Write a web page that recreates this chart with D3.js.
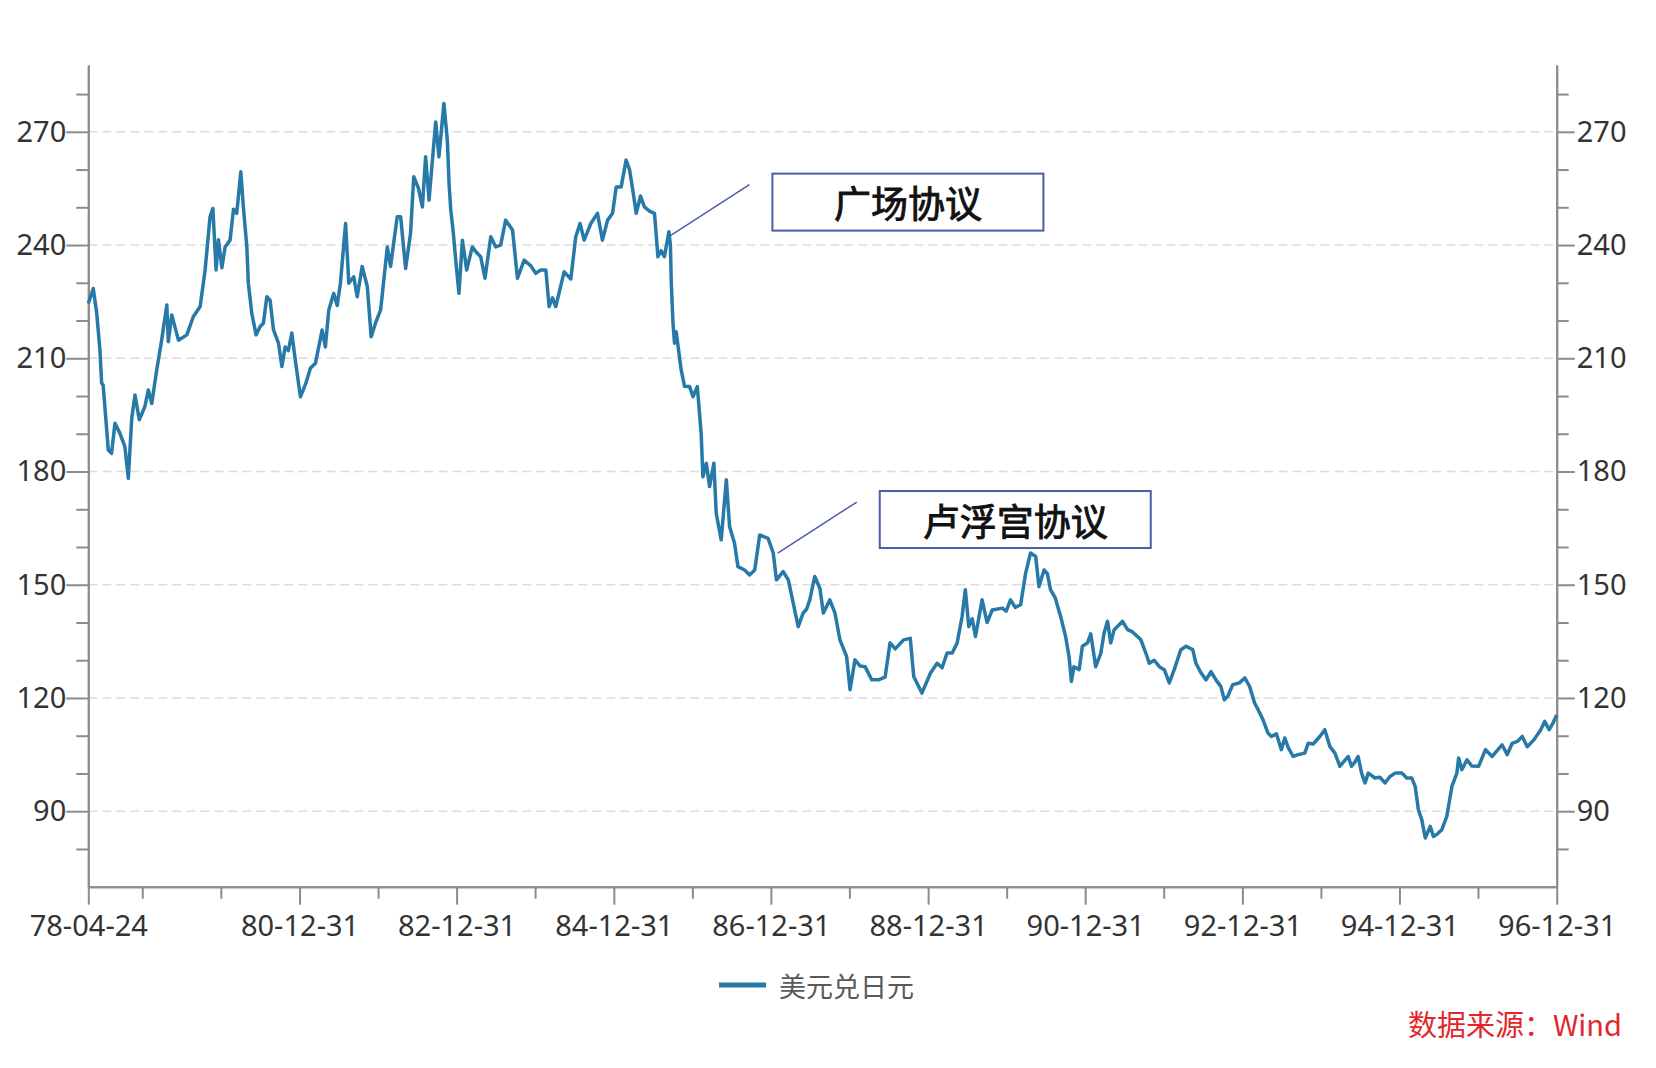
<!DOCTYPE html>
<html>
<head>
<meta charset="utf-8">
<script src="https://cdn.jsdelivr.net/npm/d3@7"></script>
<style>
  body { margin: 0; background: #fff; }
  svg { display: block; }
</style>
</head>
<body>
<div id="chart"></div>
<script>
// USD/JPY
const dates = [
  "1978-04-24","1978-05-17","1978-06-02","1978-06-17","1978-06-25","1978-07-02","1978-07-26","1978-08-10","1978-08-26","1978-09-18","1978-10-11","1978-10-27","1978-11-12","1978-11-27","1978-12-17",
  "1979-01-12","1979-01-28","1979-02-13","1979-03-08","1979-03-31","1979-04-24","1979-05-01","1979-05-17","1979-06-17","1979-07-26","1979-08-25","1979-09-26","1979-10-19","1979-11-11","1979-11-24","1979-12-09","1979-12-20",
  "1980-01-05","1980-01-20","1980-02-12","1980-02-28","1980-03-14","1980-04-02","1980-04-14","1980-04-30","1980-05-07","1980-05-23","1980-06-12","1980-07-01","1980-07-16","1980-08-01","1980-08-16","1980-09-01","1980-09-24","1980-10-10","1980-10-25","1980-11-09","1980-11-25","1980-12-11",
  "1981-01-04","1981-01-27","1981-02-20","1981-03-15","1981-04-15","1981-04-30","1981-05-16","1981-06-08","1981-06-24","1981-07-09","1981-08-02","1981-08-17","1981-09-09","1981-09-25","1981-10-18","1981-11-11","1981-11-29","1981-12-19",
  "1982-01-12","1982-02-12","1982-02-27","1982-03-30","1982-04-15","1982-05-08","1982-05-31","1982-06-15","1982-07-07","1982-07-25","1982-08-09","1982-08-25","1982-09-09","1982-09-25","1982-10-10","1982-11-02","1982-11-18","1982-11-26","1982-12-04","1982-12-16","1982-12-27",
  "1983-01-11","1983-01-27","1983-02-16","1983-03-14","1983-04-03","1983-04-22","1983-05-12","1983-06-08","1983-07-01","1983-07-24","1983-08-16","1983-09-17","1983-10-10","1983-11-10","1983-12-11",
  "1984-01-03","1984-01-26","1984-02-19","1984-03-05","1984-03-21","1984-04-05","1984-05-14","1984-06-14","1984-07-07","1984-07-27","1984-08-15","1984-09-15","1984-10-16","1984-11-08","1984-12-02","1984-12-25",
  "1985-01-11","1985-02-03","1985-02-26","1985-03-14","1985-03-29","1985-04-14","1985-05-04","1985-05-22","1985-06-15","1985-07-08","1985-07-24","1985-08-08","1985-08-23","1985-09-13","1985-09-20","1985-09-24","1985-10-02","1985-10-09","1985-10-17","1985-11-09","1985-11-25","1985-12-18",
  "1986-01-03","1986-01-23","1986-02-10","1986-02-18","1986-03-06","1986-03-21","1986-04-10","1986-04-21","1986-05-14","1986-06-07","1986-06-22","1986-07-15","1986-07-31","1986-08-31","1986-09-23","1986-10-17","1986-11-09","1986-12-18",
  "1987-01-11","1987-01-26","1987-02-26","1987-03-22","1987-05-07","1987-05-30","1987-06-15","1987-06-30","1987-07-23","1987-08-16","1987-09-01","1987-10-01","1987-10-25","1987-11-17","1987-12-18",
  "1988-01-03","1988-01-26","1988-02-18","1988-03-13","1988-04-13","1988-05-14","1988-06-14","1988-07-07","1988-07-31","1988-09-08","1988-10-09","1988-10-25","1988-12-02",
  "1989-01-11","1989-02-11","1989-03-06","1989-03-29","1989-04-22","1989-05-15","1989-06-07","1989-06-22","1989-07-08","1989-07-24","1989-08-08","1989-09-08","1989-10-01","1989-10-25","1989-12-11","1989-12-29",
  "1990-01-18","1990-02-09","1990-03-06","1990-03-29","1990-04-21","1990-05-15","1990-05-30","1990-06-23","1990-07-08","1990-07-23","1990-08-14","1990-09-08","1990-10-01","1990-10-17","1990-10-28","1990-11-09","1990-12-03","1990-12-18",
  "1991-01-11","1991-01-26","1991-02-18","1991-03-14","1991-03-29","1991-04-14","1991-04-29","1991-05-15","1991-06-23","1991-07-16","1991-08-08","1991-08-31","1991-09-16","1991-10-09","1991-10-25","1991-11-17","1991-12-11",
  "1992-01-03","1992-01-26","1992-02-18","1992-03-20","1992-04-13","1992-05-14","1992-05-29","1992-06-22","1992-07-15","1992-08-07","1992-08-30","1992-09-22","1992-10-08","1992-10-24","1992-11-16","1992-12-17",
  "1993-01-11","1993-02-03","1993-02-26","1993-03-14","1993-04-06","1993-04-29","1993-05-15","1993-06-07","1993-06-30","1993-07-16","1993-07-31","1993-08-24","1993-09-16","1993-10-17","1993-11-02","1993-11-25","1993-12-26",
  "1994-01-18","1994-02-11","1994-03-06","1994-03-29","1994-04-14","1994-05-07","1994-05-22","1994-06-07","1994-06-22","1994-07-08","1994-07-24","1994-08-08","1994-08-23","1994-09-08","1994-10-01","1994-10-25","1994-11-17","1994-12-11",
  "1995-01-11","1995-02-03","1995-02-26","1995-03-14","1995-03-29","1995-04-14","1995-04-30","1995-05-23","1995-06-07","1995-06-26","1995-07-16","1995-08-08","1995-09-01","1995-09-24","1995-10-02","1995-10-17","1995-11-10","1995-12-02",
  "1996-01-03","1996-02-04","1996-03-06","1996-04-21","1996-05-15","1996-06-07","1996-07-01","1996-07-24","1996-08-16","1996-09-16","1996-10-18","1996-11-05","1996-11-26","1996-12-15","1996-12-31"
];
const usdjpy = [
  224.5,228.5,222,212.2,203.4,202.9,185.7,184.8,192.8,190.1,186.6,178.2,194.1,200.3,193.7,
  197.2,201.6,198,206.9,214.8,224.1,214.4,221.5,214.8,216.2,221,223.7,233.4,247.5,249.7,233.4,241.4,
  234,239.5,241.3,249.5,248.4,259.4,250,239.5,229.9,221.9,216.2,218.4,219.3,226.3,225.4,217.5,214,207.8,213,212,216.7,209.6,
  199.8,203,207.4,208.7,217.5,213,222.8,227.2,224,229.9,245.7,229.9,231.6,226.3,234.3,229,215.7,219.3,
  222.8,239.5,234.3,247.5,247.5,233.8,243.1,258.1,255,250.1,263.4,251.9,262,272.6,263.4,277.5,267.8,256.3,249.3,243.1,236,
  227.2,241.3,233.4,239.5,238,236.9,231.2,242.2,239.5,240,246.6,244,231.2,236,234.5,
  232.5,233.4,233.4,223.7,226,223.7,232.9,231,242.2,245.7,241.3,245.7,248.4,241.3,246.6,248.4,
  255.4,255.4,262.5,260,254.6,248.4,253,250.1,249,248.4,236.9,238.5,236.9,243.5,240,230,219.3,214,217,206.9,202.5,202.5,
  199.8,202.5,190.1,178.6,182.2,176,182.2,168.9,161.9,177.8,165.4,161,154.8,153.9,152.6,153.9,163.2,162.3,
  158.4,151.3,153.5,151.3,138.9,142.5,143.5,146,152.2,149,142.5,146,142.5,135.4,131,
  122.2,130.1,128.5,128.3,124.8,124.8,125.5,134.6,133,135.4,135.8,125.7,121.3,
  126.6,129.2,128,131.9,131.9,134.6,141.6,148.7,138.9,141,136.3,146,140,143.3,143.8,143,
  146,144,144.7,153,158.4,157.5,149.5,153.9,153,148.7,146.5,141.6,136.3,131,124.4,128.3,127.5,133.7,
  134.6,137,128.3,131.9,137.2,140.3,134.6,138.1,140.3,138.1,137.5,136.3,135.4,131.9,129.2,130,128.3,
  127.5,124,127.5,132.8,133.7,132.8,129.2,126.6,124.8,127,124.8,123,119.5,120.5,123.5,124,
  125.3,123,118.6,116.9,114.2,110.7,109.8,110.5,106.3,109.4,107,104.5,105,105.4,108,107.8,109.8,
  111.6,107.1,105.4,101.9,103,104.5,101.9,103,104.5,100.1,97.5,100.1,99.5,98.8,99,97.5,99.2,100.1,
  100.1,98.8,98.8,96.6,90.4,87.7,82.9,86,83.3,84,85.1,88.6,96.6,100.1,104.1,101,103.6,102,
  101.9,106.3,104.5,107.6,105,108,108.5,109.8,107.1,108.9,111.6,113.8,111.6,113.5,115.5
];

const yMajorTicks = [90, 120, 150, 180, 210, 240, 270];
const yMinorTicks = [80, 100, 110, 130, 140, 160, 170, 190, 200, 220, 230, 250, 260, 280];
const xLabelTicks = ["1978-04-24","1980-12-31","1982-12-31","1984-12-31","1986-12-31","1988-12-31","1990-12-31","1992-12-31","1994-12-31","1996-12-31"];
const xMinorTicks = ["1978-12-31","1979-12-31","1981-12-31","1983-12-31","1985-12-31","1987-12-31","1989-12-31","1991-12-31","1993-12-31","1995-12-31"];

const eventNames = ["广场协议", "卢浮宫协议"];
const eventDates = ["1985-09-20", "1987-02-01"];
const eventValues = [242.5, 158.4];

const seriesName = "美元兑日元";
const sourceNote = "数据来源：Wind";

class FxChart {
    constructor(opts) {
        this.element = opts.element;
        this.draw();
    }

    draw() {
        this.width = 1656;
        this.height = 1068;
        this.plot = { left: 88.3, right: 1556.7, top: 65, bottom: 886.7 };
        this.color = "#2779a7";
        this.font = "'Noto Sans', 'Noto Sans CJK SC', sans-serif";

        this.svg = d3.select(this.element).append("svg")
            .attr("width", this.width)
            .attr("height", this.height)
            .style("background-color", "white");

        const parse = d3.timeParse("%Y-%m-%d");
        this.parse = parse;
        this.data = dates.map((d, i) => ({ date: parse(d), value: usdjpy[i] }));

        this.x = d3.scaleTime()
            .domain([parse("1978-04-24"), parse("1996-12-31")])
            .range([this.plot.left, this.plot.right]);
        this.y = d3.scaleLinear()
            .domain([70, 287.7])
            .range([this.plot.bottom, this.plot.top]);

        this.drawGrid();
        this.drawAxes();
        this.drawLine();
        this.drawNotes();
        this.drawLegend();
    }

    drawGrid() {
        this.svg.append("g")
            .selectAll("line")
            .data(yMajorTicks)
            .enter()
            .append("line")
            .attr("x1", this.plot.left)
            .attr("x2", this.plot.right)
            .attr("y1", d => this.y(d))
            .attr("y2", d => this.y(d))
            .style("stroke", "#dcdcdc")
            .style("stroke-width", 1.5)
            .style("stroke-dasharray", "9,5");
    }

    styleAxis(g) {
        g.selectAll("path, line").style("stroke", "#8c8c8c").style("stroke-width", 2);
        g.selectAll("text")
            .style("font-family", this.font)
            .style("font-size", "29px")
            .style("fill", "#333");
    }

    drawAxes() {
        const fmt = d3.timeFormat("%y-%m-%d");
        const p = this.plot;

        // minor ticks first, labelled ticks on top
        const leftMinor = this.svg.append("g").attr("transform", `translate(${p.left},0)`)
            .call(d3.axisLeft(this.y).tickValues(yMinorTicks).tickSize(12).tickSizeOuter(0).tickFormat(""));
        const left = this.svg.append("g").attr("transform", `translate(${p.left},0)`)
            .call(d3.axisLeft(this.y).tickValues(yMajorTicks).tickSize(22).tickSizeOuter(0).tickPadding(0));
        const rightMinor = this.svg.append("g").attr("transform", `translate(${p.right},0)`)
            .call(d3.axisRight(this.y).tickValues(yMinorTicks).tickSize(12).tickSizeOuter(0).tickFormat(""));
        const right = this.svg.append("g").attr("transform", `translate(${p.right},0)`)
            .call(d3.axisRight(this.y).tickValues(yMajorTicks).tickSize(18).tickSizeOuter(0).tickPadding(2));

        const bottomMinor = this.svg.append("g").attr("transform", `translate(0,${p.bottom})`)
            .call(d3.axisBottom(this.x).tickValues(xMinorTicks.map(this.parse)).tickSize(12).tickSizeOuter(0).tickFormat(""));
        const bottom = this.svg.append("g").attr("transform", `translate(0,${p.bottom})`)
            .call(d3.axisBottom(this.x).tickValues(xLabelTicks.map(this.parse)).tickSize(18).tickSizeOuter(0).tickPadding(11).tickFormat(fmt));

        [leftMinor, left, rightMinor, right, bottomMinor, bottom].forEach(g => this.styleAxis(g));
    }

    drawLine() {
        const line = d3.line()
            .x(d => this.x(d.date))
            .y(d => this.y(d.value));

        this.svg.append("path")
            .datum(this.data)
            .attr("d", line)
            .style("fill", "none")
            .style("stroke", this.color)
            .style("stroke-width", 3.5)
            .style("stroke-linejoin", "round");
    }

    drawNotes() {
        const notes = eventNames.map((name, i) => ({
            name: name,
            x: this.x(this.parse(eventDates[i])),
            y: this.y(eventValues[i])
        }));

        const g = this.svg.selectAll("g.note")
            .data(notes)
            .enter()
            .append("g")
            .attr("class", "note")
            .attr("transform", d => `translate(${d.x},${d.y})`);

        g.append("line")
            .attr("x1", 0).attr("y1", 0)
            .attr("x2", 79).attr("y2", -51)
            .style("stroke", "#4a5ea6")
            .style("stroke-width", 1.5);

        g.append("rect")
            .attr("x", 102).attr("y", -62)
            .attr("width", 271).attr("height", 57)
            .style("fill", "white")
            .style("stroke", "#4a5ea6")
            .style("stroke-width", 2);

        g.append("text")
            .attr("x", 102 + 271 / 2)
            .attr("y", -62 + 57 / 2)
            .attr("text-anchor", "middle")
            .attr("dominant-baseline", "central")
            .style("font-family", "'Noto Sans CJK SC', sans-serif")
            .style("font-size", "37px")
            .style("font-weight", 400)
            .style("fill", "#111")
            .style("stroke", "#111")
            .style("stroke-width", 0.9)
            .text(d => d.name);
    }

    drawLegend() {
        this.svg.append("line")
            .attr("x1", 719).attr("x2", 766)
            .attr("y1", 985).attr("y2", 985)
            .style("stroke", this.color)
            .style("stroke-width", 5);

        this.svg.append("text")
            .attr("x", 779).attr("y", 985)
            .attr("dominant-baseline", "central")
            .style("font-family", "'Noto Sans CJK SC', sans-serif")
            .style("font-size", "27px")
            .style("fill", "#595959")
            .text(seriesName);

        this.svg.append("text")
            .attr("x", 1622).attr("y", 1023)
            .attr("text-anchor", "end")
            .attr("dominant-baseline", "central")
            .style("font-family", "'Noto Sans CJK SC', sans-serif")
            .style("font-size", "29px")
            .style("fill", "#e3262c")
            .text(sourceNote);
    }
}

new FxChart({ element: "#chart" });
</script>
</body>
</html>
